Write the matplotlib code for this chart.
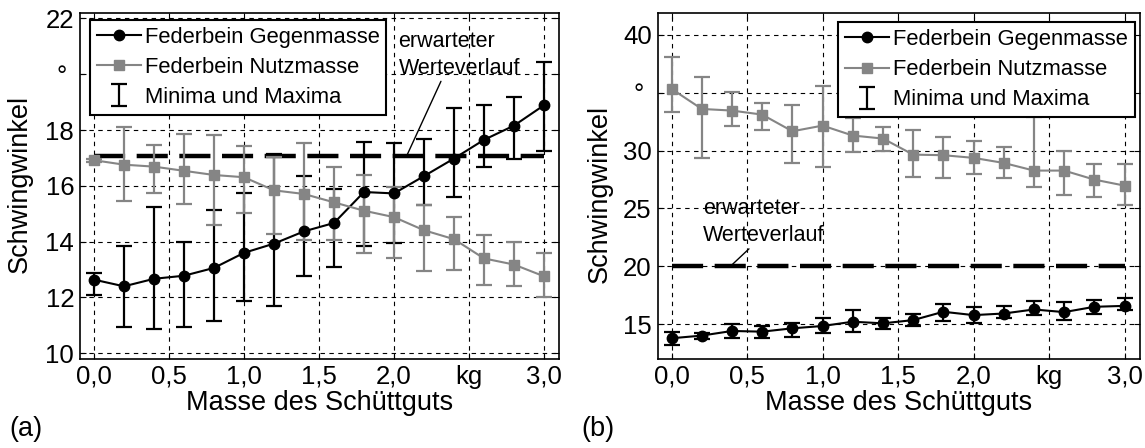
import matplotlib.pyplot as plt

plt.rcParams['font.family'] = ['Liberation Sans', 'DejaVu Sans']

# Masse des Schüttguts in kg
masse = [0.0, 0.2, 0.4, 0.6, 0.8, 1.0, 1.2, 1.4, 1.6, 1.8, 2.0, 2.2, 2.4, 2.6, 2.8, 3.0]

# (a) Schwingwinkel in Grad
a_gegen = [12.64, 12.40, 12.67, 12.78, 13.06, 13.60, 13.93, 14.37, 14.67, 15.78, 15.73, 16.35, 16.98, 17.65, 18.16, 18.89]
a_gegen_min = [12.10, 10.93, 10.87, 10.95, 11.17, 11.89, 11.70, 12.76, 13.08, 13.84, 13.96, 15.33, 15.61, 16.66, 16.98, 17.24]
a_gegen_max = [12.88, 13.86, 15.26, 14.00, 15.14, 15.76, 17.13, 16.35, 15.90, 17.58, 17.54, 17.67, 18.78, 18.89, 19.18, 20.45]
a_nutz = [16.92, 16.76, 16.69, 16.54, 16.39, 16.31, 15.84, 15.71, 15.41, 15.11, 14.88, 14.41, 14.09, 13.40, 13.18, 12.76]
a_nutz_min = [16.85, 15.46, 15.74, 15.35, 14.61, 15.02, 14.28, 14.07, 14.05, 13.60, 13.42, 12.94, 12.98, 12.46, 12.40, 12.01]
a_nutz_max = [16.98, 18.10, 17.46, 17.86, 17.82, 17.42, 17.05, 17.54, 16.68, 16.38, 15.96, 15.32, 14.88, 14.23, 13.99, 13.58]
a_erwartet = 17.08

# (b) Schwingwinkel in Grad
b_gegen = [13.77, 14.00, 14.40, 14.34, 14.63, 14.83, 15.20, 15.06, 15.34, 16.06, 15.77, 15.91, 16.26, 16.03, 16.49, 16.57]
b_gegen_min = [13.20, 13.71, 13.83, 13.77, 13.91, 14.26, 14.34, 14.54, 14.83, 15.29, 15.06, 15.49, 15.77, 15.34, 15.86, 16.20]
b_gegen_max = [14.34, 14.26, 14.97, 14.83, 15.06, 15.54, 16.20, 15.54, 15.91, 16.77, 16.43, 16.54, 17.00, 16.91, 17.11, 17.29]
b_nutz = [35.33, 33.60, 33.46, 33.11, 31.67, 32.16, 31.30, 31.04, 29.65, 29.60, 29.37, 28.93, 28.27, 28.27, 27.49, 26.97]
b_nutz_min = [33.37, 29.37, 32.16, 31.82, 28.90, 28.56, 29.86, 30.00, 27.70, 27.61, 27.98, 27.61, 26.83, 26.20, 26.02, 25.30]
b_nutz_max = [38.13, 36.40, 35.04, 34.15, 33.98, 35.59, 32.80, 32.05, 31.82, 31.18, 30.81, 30.29, 32.88, 29.94, 28.88, 28.88]
b_erwartet = 20.0

xticks = [0.0, 0.5, 1.0, 1.5, 2.0, 2.5, 3.0]
xticklabels = ['0,0', '0,5', '1,0', '1,5', '2,0', 'kg', '3,0']
a_yticks = [10, 12, 14, 16, 18, 20, 22]
a_yticklabels = ['10', '12', '14', '16', '18', '° ', '22']
b_yticks = [15, 20, 25, 30, 35, 40]
b_yticklabels = ['15', '20', '25', '30', '° ', '40']

GRAU = '#858585'


def panel(ax, gegen, gmin, gmax, nutz, nmin, nmax, erwartet):
    g_err = [[v - lo for v, lo in zip(gegen, gmin)], [hi - v for v, hi in zip(gegen, gmax)]]
    n_err = [[v - lo for v, lo in zip(nutz, nmin)], [hi - v for v, hi in zip(nutz, nmax)]]
    ax.plot([masse[0], masse[-1]], [erwartet, erwartet], color='k', lw=3.2,
            dashes=(7, 2.6), solid_capstyle='butt', dash_capstyle='butt', zorder=2)
    eb = ax.errorbar(masse, gegen, yerr=g_err, fmt='none', ecolor='k', elinewidth=1.6,
                     capsize=6, capthick=1.6, zorder=3, label='Minima und Maxima')
    ax.errorbar(masse, nutz, yerr=n_err, fmt='none', ecolor=GRAU, elinewidth=1.6,
                capsize=6, capthick=1.6, zorder=4)
    l1, = ax.plot(masse, gegen, color='k', lw=1.5, marker='o', ms=7.5, zorder=5,
                  label='Federbein Gegenmasse')
    l2, = ax.plot(masse, nutz, color=GRAU, lw=1.5, marker='s', ms=6.5, zorder=5,
                  label='Federbein Nutzmasse')
    ax.set_xlim(-0.09, 3.1)
    ax.set_xticks(xticks)
    ax.set_xticklabels(xticklabels)
    ax.grid(True, color='k', linestyle=(0, (4, 4)), linewidth=0.8)
    ax.tick_params(direction='in', length=4, top=True, right=True, labelsize=18.5, pad=4.5)
    ax.tick_params(axis='x', pad=4)
    for s in ax.spines.values():
        s.set_linewidth(1.2)
    ax.set_xlabel('Masse des Schüttguts', fontsize=19.5, labelpad=1)
    ax.set_ylabel('Schwingwinkel', fontsize=19.5)
    return [l1, l2, eb]


def legende(ax, handles, loc, anchor):
    leg = ax.legend(handles=handles, loc=loc, bbox_to_anchor=anchor, borderaxespad=0,
                    fontsize=15.8, handlelength=2.0, handletextpad=0.2, borderpad=0.3,
                    labelspacing=0.42, fancybox=False, edgecolor='k', framealpha=1)
    leg.get_frame().set_linewidth(1.5)
    leg.set_zorder(10)


fig = plt.figure(figsize=(11.45, 4.48), dpi=100)
ax1 = fig.add_axes([0.0703, 0.198, 0.4179, 0.772])
ax2 = fig.add_axes([0.5747, 0.198, 0.4206, 0.772])

h = panel(ax1, a_gegen, a_gegen_min, a_gegen_max, a_nutz, a_nutz_min, a_nutz_max, a_erwartet)
ax1.set_ylim(9.785, 22.18)
ax1.set_yticks(a_yticks)
ax1.set_yticklabels(a_yticklabels)
ax1.yaxis.set_label_coords(-0.099, 0.507)
legende(ax1, h, 'upper left', (0.02, 0.981))
ax1.annotate('erwarteter\nWerteverlauf', xy=(2.085, a_erwartet), xytext=(2.03, 20.7),
             ha='left', va='center', fontsize=15.5, linespacing=1.35,
             arrowprops=dict(arrowstyle='-', lw=1, color='k', relpos=(0.36, 0),
                             shrinkA=0, shrinkB=0))

h = panel(ax2, b_gegen, b_gegen_min, b_gegen_max, b_nutz, b_nutz_min, b_nutz_max, b_erwartet)
ax2.set_ylim(11.95, 41.86)
ax2.set_yticks(b_yticks)
ax2.set_yticklabels(b_yticklabels)
ax2.yaxis.set_label_coords(-0.093, 0.477)
legende(ax2, h, 'upper right', (0.99, 0.974))
ax2.annotate('erwarteter\nWerteverlauf', xy=(0.39, b_erwartet), xytext=(0.21, 23.8),
             ha='left', va='center', fontsize=15.5, linespacing=1.35,
             arrowprops=dict(arrowstyle='-', lw=1, color='k', relpos=(0.4, 0),
                             shrinkA=0, shrinkB=0))

fig.text(0.008, 0.027, '(a)', fontsize=19.5, va='baseline')
fig.text(0.508, 0.027, '(b)', fontsize=19.5, va='baseline')

plt.savefig('out.png', dpi=100)
